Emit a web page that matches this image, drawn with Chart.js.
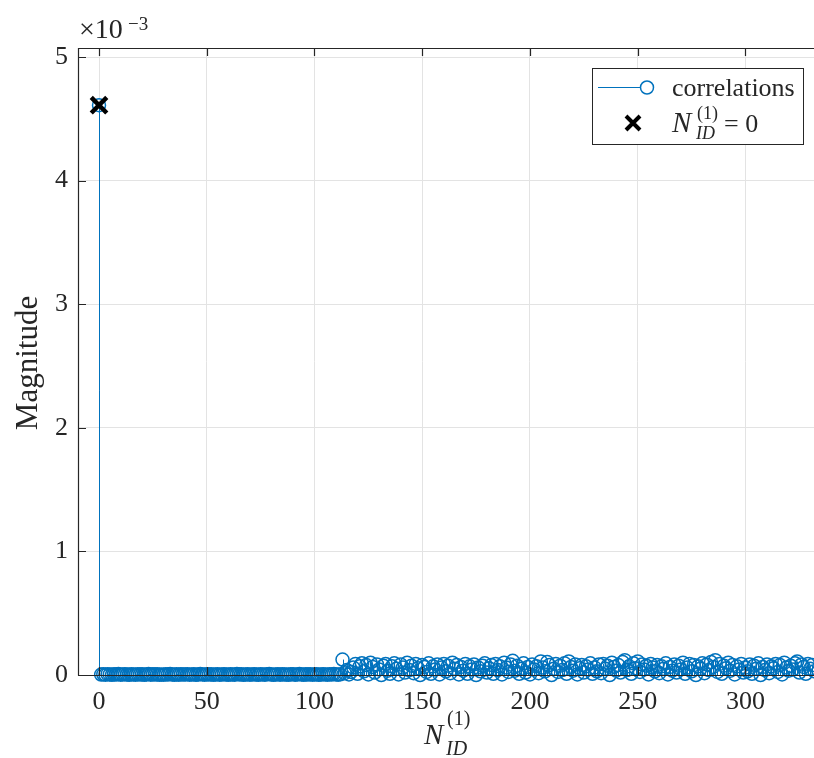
<!DOCTYPE html>
<html>
<head>
<meta charset="utf-8">
<script src="https://cdn.jsdelivr.net/npm/chart.js@4.4.1/dist/chart.umd.min.js"></script>
<style>
    html, body { margin: 0; padding: 0; background: #fff; overflow: hidden; }
    #wrap { width: 814px; height: 758px; }
    #corrChart { display: block; }
</style>
</head>
<body>
<div id="wrap"><canvas id="corrChart" width="814" height="758"></canvas></div>
<script>
// Magnitudes are in units of 1e-3 (axis exponent shown as x10^-3)
const peakValue = [4.61];

// N_ID = 1 .. 112
const quietValues = [
    0.004, 0.006, 0.003, 0.007, 0.005, 0.002, 0.006, 0.004, 0.008, 0.003,
    0.005, 0.007, 0.004, 0.002, 0.006, 0.005, 0.003, 0.007, 0.004, 0.006,
    0.002, 0.005, 0.008, 0.003, 0.006, 0.004, 0.007, 0.002, 0.005, 0.003,
    0.006, 0.004, 0.008, 0.005, 0.002, 0.007, 0.003, 0.006, 0.004, 0.005,
    0.007, 0.003, 0.005, 0.006, 0.002, 0.004, 0.008, 0.005, 0.003, 0.006,
    0.004, 0.007, 0.002, 0.005, 0.006, 0.003, 0.004, 0.007, 0.005, 0.002,
    0.006, 0.004, 0.003, 0.008, 0.005, 0.006, 0.002, 0.004, 0.007, 0.003,
    0.005, 0.006, 0.004, 0.002, 0.007, 0.005, 0.003, 0.006, 0.008, 0.004,
    0.002, 0.005, 0.007, 0.003, 0.006, 0.004, 0.005, 0.002, 0.007, 0.006,
    0.003, 0.004, 0.008, 0.005, 0.002, 0.006, 0.004, 0.007, 0.003, 0.005,
    0.006, 0.002, 0.004, 0.007, 0.005, 0.003, 0.006, 0.004, 0.009, 0.005,
    0.003, 0.006
];

// N_ID = 113 .. 335
const noisyValues = [
    0.125, 0.015, 0.040, 0.005, 0.025, 0.060, 0.090, 0.010, 0.070, 0.095,
    0.030, 0.080, 0.005, 0.100, 0.065, 0.020, 0.085, 0.045, 0.000, 0.075,
    0.090, 0.035, 0.010, 0.070, 0.095, 0.050, 0.005, 0.085, 0.060, 0.020,
    0.100, 0.040, 0.075, 0.015, 0.090, 0.055, 0.000, 0.080, 0.065, 0.025,
    0.095, 0.010, 0.070, 0.045, 0.085, 0.005, 0.060, 0.090, 0.030, 0.075,
    0.015, 0.100, 0.050, 0.080, 0.005, 0.065, 0.035, 0.090, 0.010, 0.070,
    0.045, 0.085, 0.000, 0.060, 0.030, 0.075, 0.095, 0.020, 0.055, 0.080,
    0.010, 0.090, 0.040, 0.070, 0.005, 0.100, 0.060, 0.025, 0.085, 0.115,
    0.035, 0.075, 0.010, 0.050, 0.095, 0.020, 0.065, 0.005, 0.085, 0.045,
    0.070, 0.015, 0.110, 0.060, 0.030, 0.105, 0.080, 0.000, 0.050, 0.090,
    0.025, 0.075, 0.040, 0.095, 0.010, 0.110, 0.065, 0.035, 0.085, 0.005,
    0.055, 0.080, 0.020, 0.070, 0.045, 0.095, 0.010, 0.060, 0.030, 0.085,
    0.015, 0.090, 0.050, 0.075, 0.000, 0.100, 0.065, 0.035, 0.080, 0.020,
    0.105, 0.120, 0.040, 0.070, 0.010, 0.095, 0.055, 0.110, 0.025, 0.085,
    0.045, 0.075, 0.005, 0.090, 0.060, 0.030, 0.080, 0.015, 0.070, 0.050,
    0.095, 0.005, 0.065, 0.035, 0.085, 0.020, 0.075, 0.045, 0.100, 0.010,
    0.060, 0.090, 0.030, 0.080, 0.000, 0.070, 0.050, 0.095, 0.015, 0.085,
    0.040, 0.105, 0.065, 0.120, 0.025, 0.090, 0.010, 0.075, 0.055, 0.100,
    0.035, 0.080, 0.005, 0.070, 0.045, 0.090, 0.020, 0.060, 0.030, 0.085,
    0.010, 0.075, 0.050, 0.095, 0.000, 0.065, 0.040, 0.085, 0.015, 0.070,
    0.055, 0.090, 0.025, 0.080, 0.005, 0.100, 0.060, 0.035, 0.075, 0.045,
    0.095, 0.110, 0.020, 0.085, 0.065, 0.010, 0.090, 0.050, 0.080, 0.030,
    0.070, 0.100, 0.015
];

const magnitudes = peakValue.concat(quietValues, noisyValues);
const nId = magnitudes.map((_, i) => i);

// detected cell
const detectedId = [0];
const detectedMag = [4.61];

const xTicks = [0, 50, 100, 150, 200, 250, 300];
const yTicks = [0, 1, 2, 3, 4, 5];

const BLUE = '#0072BD';
const AXIS = '#262626';
const FONT = "'Liberation Serif', 'Times New Roman', serif";

// estilo MATLAB: caja, ticks hacia dentro, stems y leyenda
const matlabAxes = {
    id: 'matlabAxes',
    beforeDatasetsDraw(chart) {
        const { ctx, chartArea: a, scales: { x, y } } = chart;
        ctx.save();
        // stems
        ctx.beginPath();
        ctx.rect(a.left, 0, a.right - a.left, chart.height);
        ctx.clip();
        ctx.strokeStyle = BLUE;
        ctx.lineWidth = 1;
        ctx.beginPath();
        const y0 = y.getPixelForValue(0);
        magnitudes.forEach((v, i) => {
            const px = Math.round(x.getPixelForValue(nId[i])) + 0.5;
            ctx.moveTo(px, y0);
            ctx.lineTo(px, y.getPixelForValue(v));
        });
        ctx.stroke();
        ctx.restore();
    },
    afterDatasetsDraw(chart) {
        const { ctx, chartArea: a, scales: { x, y } } = chart;
        ctx.save();
        // frame + inward ticks
        ctx.strokeStyle = AXIS;
        ctx.lineWidth = 1.2;
        ctx.beginPath();
        ctx.moveTo(a.left + 0.5, a.top);
        ctx.lineTo(a.left + 0.5, a.bottom + 0.5);
        ctx.moveTo(a.left, a.bottom + 0.5);
        ctx.lineTo(a.right, a.bottom + 0.5);
        ctx.moveTo(a.left, a.top + 0.5);
        ctx.lineTo(a.right, a.top + 0.5);
        xTicks.forEach(v => {
            const px = Math.round(x.getPixelForValue(v)) + 0.5;
            ctx.moveTo(px, a.bottom);
            ctx.lineTo(px, a.bottom - 8);
            ctx.moveTo(px, a.top);
            ctx.lineTo(px, a.top + 8);
        });
        yTicks.forEach(v => {
            const py = Math.round(y.getPixelForValue(v)) + 0.5;
            ctx.moveTo(a.left, py);
            ctx.lineTo(a.left + 8, py);
        });
        ctx.stroke();

        // x tick labels
        ctx.fillStyle = AXIS;
        ctx.font = '26px ' + FONT;
        ctx.textAlign = 'center';
        ctx.textBaseline = 'alphabetic';
        xTicks.forEach(v => {
            ctx.fillText(String(v), x.getPixelForValue(v), a.bottom + 34);
        });
        ctx.restore();
    },
    afterDraw(chart) {
        const { ctx } = chart;
        ctx.save();
        ctx.fillStyle = AXIS;
        ctx.textBaseline = 'alphabetic';

        // exponent
        ctx.font = '28px ' + FONT;
        ctx.textAlign = 'left';
        ctx.fillText('\u00d710', 79, 38);
        ctx.font = '19px ' + FONT;
        ctx.fillText('\u22123', 128, 30);

        // y label
        ctx.save();
        ctx.translate(37, 363);
        ctx.rotate(-Math.PI / 2);
        ctx.textAlign = 'center';
        ctx.font = '31px ' + FONT;
        ctx.fillText('Magnitude', 0, 0);
        ctx.restore();

        // x label N_ID^(1)
        ctx.textAlign = 'left';
        ctx.font = 'italic 29px ' + FONT;
        ctx.fillText('N', 424, 744);
        ctx.font = '20px ' + FONT;
        ctx.fillText('(1)', 447, 725);
        ctx.font = 'italic 20px ' + FONT;
        ctx.fillText('ID', 446, 755);

        // legend box
        ctx.fillStyle = '#fff';
        ctx.fillRect(592, 68, 212, 77);
        ctx.strokeStyle = AXIS;
        ctx.lineWidth = 1;
        ctx.strokeRect(592.5, 68.5, 211, 76);

        ctx.strokeStyle = BLUE;
        ctx.beginPath();
        ctx.moveTo(598, 87.5);
        ctx.lineTo(641, 87.5);
        ctx.stroke();
        ctx.lineWidth = 1.5;
        ctx.beginPath();
        ctx.arc(647, 87.5, 6.5, 0, Math.PI * 2);
        ctx.stroke();

        ctx.strokeStyle = '#000';
        ctx.lineWidth = 4;
        ctx.beginPath();
        ctx.moveTo(626, 116);
        ctx.lineTo(640, 130);
        ctx.moveTo(640, 116);
        ctx.lineTo(626, 130);
        ctx.stroke();

        ctx.fillStyle = AXIS;
        ctx.font = '26px ' + FONT;
        ctx.fillText('correlations', 672, 96);
        ctx.font = 'italic 29px ' + FONT;
        ctx.fillText('N', 672, 132);
        ctx.font = '18px ' + FONT;
        ctx.fillText('(1)', 697, 119);
        ctx.font = 'italic 18px ' + FONT;
        ctx.fillText('ID', 696, 139);
        ctx.font = '26px ' + FONT;
        ctx.fillText('= 0', 724, 132);
        ctx.restore();
    }
};

new Chart(document.getElementById('corrChart').getContext('2d'), {
    type: 'scatter',
    data: {
        datasets: [{
            label: 'N_ID = 0',
            data: detectedId.map((v, i) => ({ x: v, y: detectedMag[i] })),
            pointStyle: 'crossRot',
            radius: 11,
            borderWidth: 4.5,
            borderColor: '#000',
            backgroundColor: '#000',
            clip: false
        }, {
            label: 'correlations',
            data: nId.map((v, i) => ({ x: v, y: magnitudes[i] })),
            pointStyle: 'circle',
            radius: 6.5,
            borderWidth: 1.5,
            borderColor: BLUE,
            backgroundColor: 'rgba(0,0,0,0)',
            clip: { left: 0, right: 0, top: false, bottom: false }
        }]
    },
    options: {
        responsive: false,
        animation: false,
        events: [],
        layout: { autoPadding: false, padding: { top: 48, left: 0, right: 0, bottom: 0 } },
        plugins: {
            legend: { display: false },
            tooltip: { enabled: false }
        },
        scales: {
            x: {
                type: 'linear',
                min: -9.75,
                max: 331.8,
                afterFit: s => { s.height = 83; s.paddingLeft = 0; s.paddingRight = 0; },
                afterBuildTicks: s => { s.ticks = xTicks.map(v => ({ value: v })); },
                grid: { color: '#e3e3e3', drawTicks: false },
                border: { display: false },
                ticks: { display: false }
            },
            y: {
                min: 0,
                max: 5.073,
                afterFit: s => { s.width = 78; s.paddingTop = 0; s.paddingBottom = 0; },
                afterBuildTicks: s => { s.ticks = yTicks.map(v => ({ value: v })); },
                grid: { color: '#e3e3e3', drawTicks: false },
                border: { display: false },
                ticks: {
                    padding: 10,
                    color: AXIS,
                    font: { family: FONT, size: 26 }
                }
            }
        }
    },
    plugins: [matlabAxes]
});
</script>
</body>
</html>
